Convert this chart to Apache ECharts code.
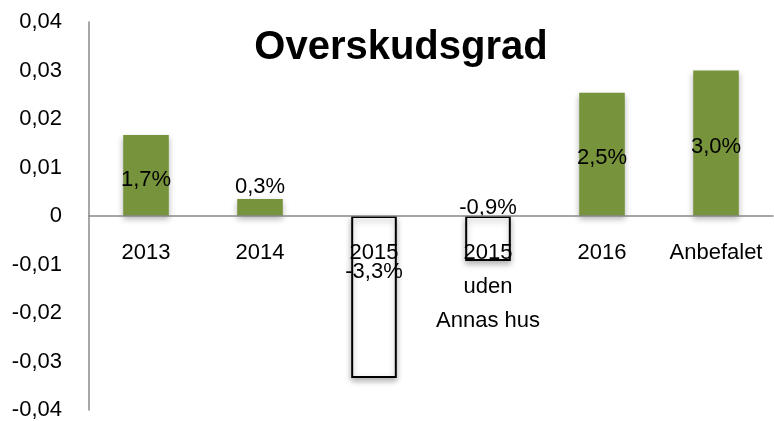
<!DOCTYPE html>
<html>
<head>
<meta charset="utf-8">
<script src="https://cdn.jsdelivr.net/npm/echarts@6/dist/echarts.min.js"></script>
<style>
  html, body { margin: 0; padding: 0; background: #fff; }
  #chart { width: 774px; height: 421px; }
</style>
</head>
<body>
<div id="chart"></div>
<script>
var categories = ['2013', '2014', '2015', '2015\nuden\nAnnas hus', '2016', 'Anbefalet'];
var values = [0.0167, 0.0035, -0.0334, -0.0093, 0.0254, 0.030];
var labels = ['1,7%', '0,3%', '-3,3%', '-0,9%', '2,5%', '3,0%'];
var yTicks = ['-0,04', '-0,03', '-0,02', '-0,01', '0', '0,01', '0,02', '0,03', '0,04'];

var font = 'Liberation Sans';

// label placement per bar, like the Excel original
function labelFor(i, v) {
  var l = { show: true, formatter: labels[i], color: '#000', fontSize: 22, fontFamily: font };
  if (v < 0 && v < -0.02) { l.position = 'insideTop'; l.offset = [0, 40]; }
  else if (v < 0) { l.position = 'top'; l.offset = [0, 8]; }
  else if (v < 0.01) { l.position = 'top'; l.distance = 1; }
  else { l.position = 'inside'; l.offset = [0, 4]; }
  return l;
}

var chart = echarts.init(document.getElementById('chart'));
chart.setOption({
  animation: false,
  title: {
    text: 'Overskudsgrad',
    left: 396, top: 23, textAlign: 'center',
    textStyle: { fontSize: 40, fontWeight: 'bold', fontFamily: font, color: '#000' }
  },
  grid: { left: 89, right: 1, top: 22, bottom: 11, containLabel: false, outerBoundsMode: 'none' },
  xAxis: {
    type: 'category',
    data: categories,
    // grid is symmetric (-0.04..0.04), so move the axis up half the plot height to sit on zero
    offset: -194,
    axisLine: { onZero: false, lineStyle: { color: '#888', width: 1.5 } },
    axisTick: { show: false },
    axisLabel: { color: '#000', fontSize: 22, fontFamily: font, margin: 20, lineHeight: 34, interval: 0 },
    z: 5
  },
  yAxis: {
    type: 'value',
    min: -0.04, max: 0.04, interval: 0.01,
    axisLine: { show: true, lineStyle: { color: '#888', width: 1.5 } },
    axisTick: { show: false },
    splitLine: { show: false },
    axisLabel: {
      color: '#000', fontSize: 22, fontFamily: font, margin: 27,
      formatter: function (v) { return yTicks[Math.round(v * 100) + 4]; }
    }
  },
  series: [{
    type: 'bar',
    barWidth: '40%',
    data: values.map(function (v, i) {
      return {
        value: v,
        label: labelFor(i, v),
        itemStyle: v < 0
          ? { color: '#fff', borderColor: '#000', borderWidth: 2 }
          : { color: '#77933C' }
      };
    }),
    itemStyle: { shadowBlur: 6, shadowOffsetY: 3, shadowColor: 'rgba(0,0,0,0.3)' }
  }]
});
</script>
</body>
</html>
